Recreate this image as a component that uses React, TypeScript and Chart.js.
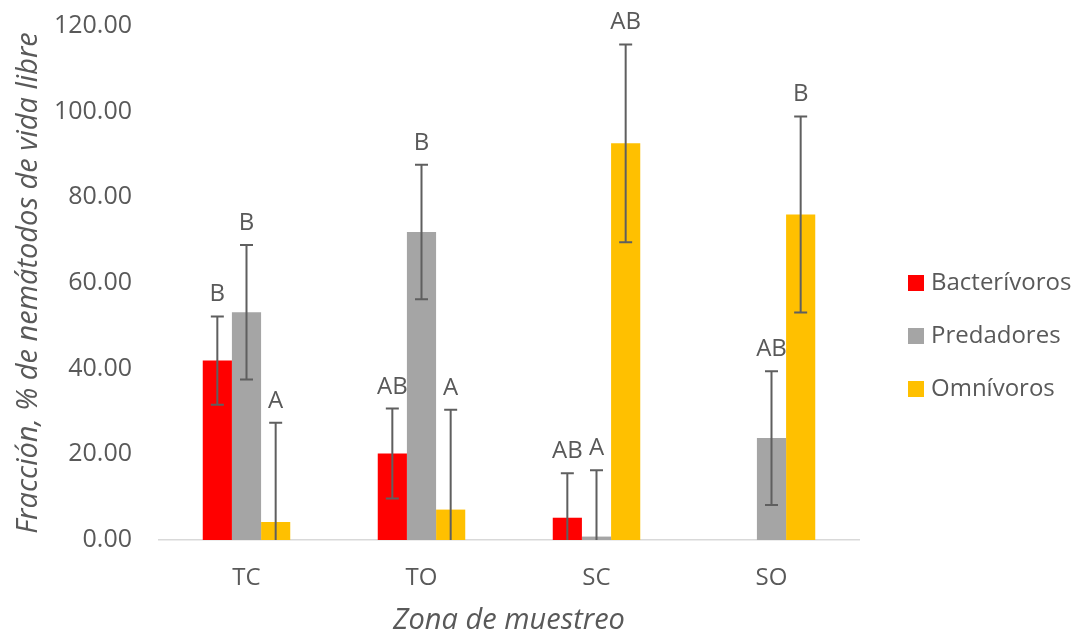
import React, { useEffect, useRef } from "react";
import { Chart, registerables } from "chart.js";

Chart.register(...registerables);

const categories = ["TC", "TO", "SC", "SO"];
const seriesNames = ["Bacterívoros", "Predadores", "Omnívoros"];
const bacterivoros = [41.9, 20.2, 5.2, 0];
const predadores = [53.2, 71.9, 0.8, 23.8];
const omnivoros = [4.2, 7.1, 92.6, 76.0];
const bacterivorosErr = [10.3, 10.5, 10.4, 0];
const predadoresErr = [15.7, 15.7, 15.5, 15.6];
const omnivorosErr = [23.2, 23.3, 23.1, 22.9];
const bacterivorosLetters = ["B", "AB", "AB", ""];
const predadoresLetters = ["B", "B", "A", "AB"];
const omnivorosLetters = ["A", "A", "AB", "B"];
const yTicks = [0, 20, 40, 60, 80, 100, 120];
const colors = ["#FF0000", "#A5A5A5", "#FFC000"];

const TEXT = "#595959";
const FONT = "'Open Sans', sans-serif";

const errorBarPlugin = {
  id: "errorBars",
  afterDatasetsDraw(chart: any) {
    const ctx = chart.ctx;
    const y = chart.scales.y;
    const area = chart.chartArea;
    chart.data.datasets.forEach((ds: any, di: number) => {
      const meta = chart.getDatasetMeta(di);
      meta.data.forEach((bar: any, i: number) => {
        const v = ds.data[i];
        const e = ds.errors[i];
        if (!e && !v) return;
        const x = bar.x;
        const yTop = y.getPixelForValue(v + e);
        const yBot = y.getPixelForValue(v - e);
        ctx.save();
        ctx.beginPath();
        ctx.rect(area.left, area.top - 30, area.right - area.left, area.bottom - area.top + 30);
        ctx.clip();
        ctx.strokeStyle = "#5f5f5f";
        ctx.lineWidth = 2;
        ctx.beginPath();
        ctx.moveTo(x, yTop);
        ctx.lineTo(x, yBot);
        ctx.moveTo(x - 6.5, yTop);
        ctx.lineTo(x + 6.5, yTop);
        ctx.moveTo(x - 6.5, yBot);
        ctx.lineTo(x + 6.5, yBot);
        ctx.stroke();
        ctx.restore();
        const letter = ds.letters[i];
        if (letter) {
          ctx.save();
          ctx.fillStyle = TEXT;
          ctx.font = `24px ${FONT}`;
          ctx.textAlign = "center";
          ctx.textBaseline = "alphabetic";
          ctx.fillText(letter, x, yTop - 15);
          ctx.restore();
        }
      });
    });
  },
};

const legendPlugin = {
  id: "customLegend",
  afterDraw(chart: any) {
    const ctx = chart.ctx;
    const startY = 283;
    const step = 53;
    chart.data.datasets.forEach((ds: any, i: number) => {
      const cy = startY + i * step;
      ctx.save();
      ctx.fillStyle = ds.backgroundColor;
      ctx.fillRect(908, cy - 8, 16, 16);
      ctx.fillStyle = TEXT;
      ctx.font = `24px ${FONT}`;
      ctx.textAlign = "left";
      ctx.textBaseline = "middle";
      ctx.fillText(ds.label, 931, cy);
      ctx.restore();
    });
  },
};

export default function App() {
  const ref = useRef<HTMLCanvasElement>(null);
  useEffect(() => {
    const values = [bacterivoros, predadores, omnivoros];
    const errs = [bacterivorosErr, predadoresErr, omnivorosErr];
    const letters = [bacterivorosLetters, predadoresLetters, omnivorosLetters];
    const chart = new Chart(ref.current as HTMLCanvasElement, {
      type: "bar",
      data: {
        labels: categories,
        datasets: seriesNames.map((name, i) => ({
          label: name,
          data: values[i],
          errors: errs[i],
          letters: letters[i],
          backgroundColor: colors[i],
          borderWidth: 0,
          categoryPercentage: 0.5,
          barPercentage: 1,
        })) as any,
      },
      options: {
        animation: false,
        responsive: false,
        maintainAspectRatio: false,
        layout: { padding: { left: 0, top: 26, right: 227, bottom: 0 } },
        plugins: { legend: { display: false }, tooltip: { enabled: false } },
        scales: {
          x: {
            grid: { display: false },
            border: { display: true, color: "#D9D9D9", width: 1.5 },
            ticks: { color: TEXT, font: { family: FONT, size: 24 }, padding: 16 },
            title: {
              display: true,
              text: "Zona de muestreo",
              color: TEXT,
              font: { family: FONT, size: 29, style: "italic" },
              padding: { top: 0, bottom: -2 },
            },
            afterFit: (s: any) => {
              s.height = 96;
              s.paddingLeft = 0;
              s.paddingRight = 0;
            },
          },
          y: {
            min: 0,
            max: 120,
            grid: { display: false },
            border: { display: false },
            afterBuildTicks: (s: any) => {
              s.ticks = yTicks.map((v) => ({ value: v }));
            },
            ticks: {
              color: TEXT,
              font: { family: FONT, size: 25 },
              padding: 19,
              callback: (v: any) => Number(v).toFixed(2),
            },
            title: {
              display: true,
              text: "Fracción, % de nemátodos de vida libre",
              color: TEXT,
              font: { family: FONT, size: 29, style: "italic" },
              padding: { top: 11, bottom: 0 },
            },
            afterFit: (s: any) => {
              s.width = 159;
              s.paddingTop = 0;
              s.paddingBottom = 0;
            },
          },
        },
      },
      plugins: [errorBarPlugin, legendPlugin],
    });
    return () => chart.destroy();
  }, []);
  return (
    <div style={{ position: "fixed", left: 0, top: 0, width: 1086, height: 636, background: "#fff" }}>
      <canvas ref={ref} width={1086} height={636} style={{ width: 1086, height: 636 }} />
    </div>
  );
}
